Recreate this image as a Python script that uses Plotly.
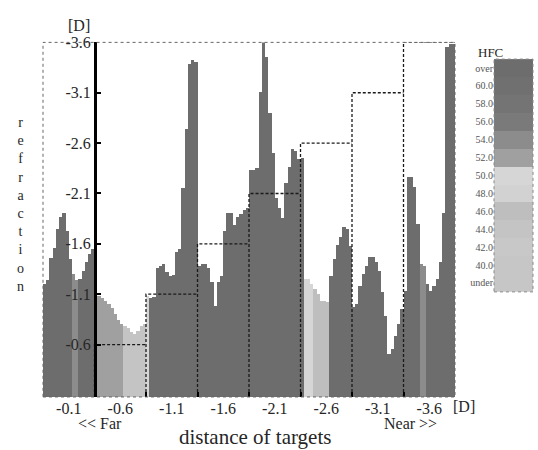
import plotly.graph_objects as go

W, H = 538, 450

# Target distances [D] of the eight viewing blocks
target_labels = ["-0.1", "-0.6", "-1.1", "-1.6", "-2.1", "-2.6", "-3.1", "-3.6"]
target_levels = [-0.1, -0.6, -1.1, -1.6, -2.1, -2.6, -3.1, -3.6]

# Measured refraction [D] per block (16 samples each)
refr_01 = [-1.20, -1.24, -1.46, -1.56, -1.74, -1.86, -1.90, -1.72, -1.45, -1.30, -1.24, -1.25, -1.33, -1.42, -1.50, -1.55]
refr_06 = [-1.08, -1.08, -1.06, -1.03, -1.00, -0.96, -0.90, -0.84, -0.80, -0.78, -0.76, -0.72, -0.70, -0.73, -0.78, -0.80]
refr_11 = [-1.08, -1.06, -1.07, -1.36, -1.38, -1.40, -1.32, -1.28, -1.29, -1.52, -1.55, -2.15, -2.74, -3.38, -3.42, -3.40]
refr_16 = [-1.38, -1.40, -1.40, -1.36, -1.22, -0.98, -1.22, -1.28, -1.72, -1.90, -1.90, -1.78, -1.86, -1.89, -1.93, -1.95]
refr_21 = [-2.33, -2.33, -2.35, -3.10, -3.60, -3.45, -2.90, -2.50, -2.05, -1.95, -1.85, -2.20, -2.36, -2.54, -2.52, -2.44]
refr_26 = [-2.45, -1.25, -1.25, -1.20, -1.15, -1.10, -1.03, -1.03, -1.02, -1.28, -1.45, -1.58, -1.66, -1.76, -1.74, -1.57]
refr_31 = [-0.97, -1.00, -1.18, -1.30, -1.38, -1.47, -1.47, -1.42, -1.33, -1.12, -0.88, -0.50, -0.55, -0.68, -0.80, -0.95]
refr_36 = [-1.13, -2.26, -2.26, -2.16, -1.79, -1.40, -1.38, -1.20, -1.13, -1.18, -1.25, -1.42, -1.90, -3.55, -3.58, -3.58]

# High-frequency component (HFC) for every sample
hfc_01 = [63, 63, 63, 63, 63, 63, 63, 63, 63, 55, 55, 63, 63, 63, 63, 63]
hfc_06 = [53, 53, 53, 53, 53, 53, 53, 53, 53, 44.5, 44.5, 44.5, 44.5, 44.5, 44.5, 44.5]
hfc_11 = [51, 63, 63, 63, 63, 63, 63, 63, 63, 63, 63, 63, 63, 63, 63, 63]
hfc_16 = [63, 63, 63, 63, 63, 63, 63, 63, 63, 63, 63, 63, 63, 63, 63, 63]
hfc_21 = [63, 63, 63, 63, 63, 63, 63, 63, 63, 63, 63, 63, 63, 63, 63, 63]
hfc_26 = [63, 50.5, 50.5, 50.5, 46.5, 46.5, 46.5, 46.5, 46.5, 63, 63, 63, 63, 63, 63, 63]
hfc_31 = [63, 63, 63, 63, 63, 63, 63, 63, 63, 63, 63, 63, 63, 63, 63, 63]
hfc_36 = [63, 63, 63, 63, 63, 55, 55, 63, 63, 63, 63, 63, 63, 63, 63, 63]

# HFC colour bands (bottom to top) and their labels
band_labels = ["under", "40.0", "42.0", "44.0", "46.0", "48.0", "50.0",
               "52.0", "54.0", "56.0", "58.0", "60.0", "over"]
band_colors = ["#c6c6c6", "#c6c6c6", "#c8c8c8", "#c4c4c4", "#bebebe", "#d2d2d2", "#d6d6d6",
               "#a0a0a0", "#8c8c8c", "#7a7a7a", "#747474", "#707070", "#6d6d6d"]
band_lo, band_step = 38.0, 2.0

refr_blocks = [refr_01, refr_06, refr_11, refr_16, refr_21, refr_26, refr_31, refr_36]
hfc_blocks = [hfc_01, hfc_06, hfc_11, hfc_16, hfc_21, hfc_26, hfc_31, hfc_36]

refraction = [v for blk in refr_blocks for v in blk]
hfc = [v for blk in hfc_blocks for v in blk]
n_per_block = len(refr_01)
n_total = len(refraction)
sample_x = [i + 0.5 for i in range(n_total)]

n_bands = len(band_colors)
band_hi = band_lo + band_step * n_bands
band_centers = [band_lo + band_step * (k + 0.5) for k in range(n_bands)]

# stepped (discrete) greyscale
colorscale = []
for k, c in enumerate(band_colors):
    colorscale.append([k / n_bands, c])
    colorscale.append([(k + 1) / n_bands, c])

axis_floor = -0.08

# dashed staircase of the target distance (from the second block on)
stair_x, stair_y = [], []
for i in range(1, len(target_levels)):
    s = i * n_per_block
    e = s + n_per_block
    stair_x += [s, s, e, None]
    stair_y += [axis_floor, target_levels[i], target_levels[i], None]


def px(x):
    return x / W


def py(y):
    return 1 - y / H


SERIF = "Liberation Serif, Times New Roman, serif"
TXT = "#262626"

fig = go.Figure()

fig.add_trace(go.Bar(
    x=sample_x, y=refraction, width=1.0,
    marker=dict(color=hfc, colorscale=colorscale, cmin=band_lo, cmax=band_hi,
                line=dict(width=0)),
    showlegend=False, hoverinfo="skip",
))

fig.add_trace(go.Scatter(
    x=stair_x, y=stair_y, mode="lines",
    line=dict(color="#1a1a1a", width=1.3, dash="3px,2px"),
    showlegend=False, hoverinfo="skip",
))

# HFC legend bar
fig.add_trace(go.Heatmap(
    x=[0], y=band_centers, z=[[c] for c in band_centers],
    colorscale=colorscale, zmin=band_lo, zmax=band_hi,
    showscale=False, xaxis="x2", yaxis="y2", hoverinfo="skip",
))

centers = [i * n_per_block + n_per_block / 2 for i in range(len(target_labels))]
bounds = [i * n_per_block for i in range(1, len(target_labels))]


def label(text, x, y, size, color=TXT):
    return dict(text=text, x=px(x), y=py(y), xref="paper", yref="paper",
                xanchor="center", yanchor="middle", showarrow=False,
                font=dict(family=SERIF, size=size, color=color))


annotations = [
    label("[D]", 79, 18, 16),
    label("[D]", 464, 406, 16),
    label("&lt;&lt; Far", 100, 423, 16),
    label("Near &gt;&gt;", 410, 423, 16),
    label("distance of targets", 255, 437, 21),
    label("HFC", 490, 45, 13),
    # vertical axis title, one upright letter per line
    label("<br>".join("refraction"), 20, 200, 14),
]

fig.update_layout(
    width=W, height=H,
    margin=dict(l=0, r=0, t=0, b=0),
    paper_bgcolor="white", plot_bgcolor="white",
    bargap=0,
    xaxis=dict(
        domain=[px(43), px(455)], range=[0, n_total],
        tickvals=centers, ticktext=target_labels, ticks="",
        tickfont=dict(family=SERIF, size=16, color=TXT),
        showgrid=False, zeroline=False, showline=False,
        minor=dict(tickvals=bounds, ticks="inside", ticklen=5, tickwidth=2,
                   tickcolor="black", showgrid=False),
    ),
    yaxis=dict(
        domain=[py(396), py(35)], range=[axis_floor, -3.6],
        anchor="free", position=px(95),
        tickvals=[-0.6, -1.1, -1.6, -2.1, -2.6, -3.1, -3.6],
        ticktext=["-0.6", "-1.1", "-1.6", "-2.1", "-2.6", "-3.1", "-3.6"],
        ticks="inside", ticklen=4, tickwidth=2, tickcolor="black",
        showline=True, linecolor="black", linewidth=3,
        tickfont=dict(family=SERIF, size=16, color=TXT),
        showgrid=False, zeroline=False,
    ),
    xaxis2=dict(domain=[px(494), px(533)], anchor="y2", visible=False),
    yaxis2=dict(
        domain=[py(289), py(52)], anchor="x2", side="left",
        tickvals=band_centers, ticktext=band_labels, ticks="",
        tickfont=dict(family=SERIF, size=10, color="#555555"),
        showgrid=False, zeroline=False, showline=False,
    ),
    shapes=[
        dict(type="rect", xref="paper", yref="paper",
             x0=px(43), x1=px(455), y0=py(396), y1=py(35),
             line=dict(color="#666666", width=1, dash="dot")),
        dict(type="rect", xref="paper", yref="paper",
             x0=px(494), x1=px(533), y0=py(289), y1=py(52),
             line=dict(color="#888888", width=1, dash="dot")),
    ],
    annotations=annotations,
)

fig.write_html("out.html")
